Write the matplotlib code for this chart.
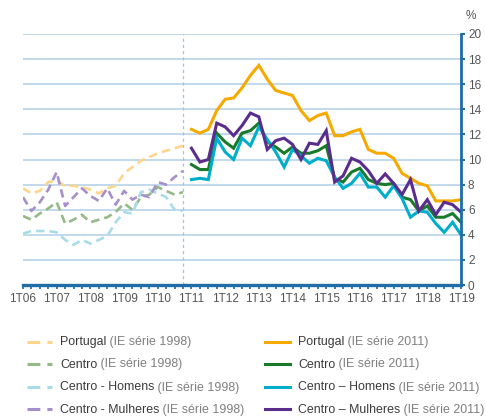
import matplotlib.pyplot as plt
from matplotlib.lines import Line2D
import numpy as np

plt.rcParams['font.family'] = ['Liberation Sans', 'DejaVu Sans']

# Trimestres (rótulos anuais)
anos = ['1T06', '1T07', '1T08', '1T09', '1T10', '1T11', '1T12',
        '1T13', '1T14', '1T15', '1T16', '1T17', '1T18', '1T19']

# Taxa de desemprego (%) - IE série 1998 (1T06 a 4T10)
pt_1998 = [7.7, 7.3, 7.5, 8.2, 8.3, 7.9, 7.9, 7.8, 7.6, 7.3,
           7.7, 7.9, 8.9, 9.4, 9.9, 10.2, 10.5, 10.7, 10.9, 11.1]
centro_1998 = [5.5, 5.2, 5.7, 6.1, 6.6, 4.9, 5.2, 5.6, 5.0, 5.2,
               5.4, 5.8, 6.5, 6.0, 7.0, 7.2, 7.8, 7.5, 7.2, 7.4]
homens_1998 = [4.1, 4.3, 4.3, 4.3, 4.2, 3.6, 3.2, 3.6, 3.3, 3.6,
               3.9, 5.0, 5.8, 5.7, 7.4, 7.6, 7.3, 7.0, 6.0, 5.9]
mulheres_1998 = [7.0, 5.9, 6.6, 7.6, 9.0, 6.3, 7.0, 7.7, 7.1, 6.7,
                 7.7, 6.4, 7.5, 6.8, 7.2, 7.0, 8.2, 8.0, 8.6, 9.1]

# Taxa de desemprego (%) - IE série 2011 (1T11 a 1T19)
pt_2011 = [12.4, 12.1, 12.4, 13.9, 14.8, 14.9, 15.7, 16.7, 17.5, 16.4,
           15.5, 15.3, 15.1, 13.9, 13.1, 13.5, 13.7, 11.9, 11.9, 12.2,
           12.4, 10.8, 10.5, 10.5, 10.1, 8.9, 8.5, 8.1, 7.9, 6.7,
           6.7, 6.7, 6.8]
centro_2011 = [9.6, 9.2, 9.2, 12.1, 11.4, 10.9, 12.1, 12.3, 12.9, 11.4,
               11.0, 10.5, 11.0, 10.5, 10.5, 10.7, 11.1, 8.5, 8.2, 9.0,
               9.3, 8.4, 8.1, 8.0, 8.1, 7.0, 6.8, 5.9, 6.3, 5.4,
               5.4, 5.7, 5.0]
homens_2011 = [8.4, 8.5, 8.4, 11.7, 10.6, 10.0, 11.7, 11.1, 12.6, 11.6,
               10.6, 9.4, 10.8, 10.3, 9.7, 10.1, 9.9, 8.6, 7.7, 8.1,
               8.9, 7.8, 7.8, 7.0, 7.9, 6.9, 5.4, 5.9, 5.8, 4.9,
               4.2, 5.0, 4.0]
mulheres_2011 = [10.9, 9.8, 10.0, 12.9, 12.6, 11.9, 12.7, 13.7, 13.4, 10.8,
                 11.5, 11.7, 11.2, 10.0, 11.3, 11.2, 12.3, 8.2, 8.7, 10.1,
                 9.8, 9.1, 8.1, 8.85, 8.1, 7.2, 8.4, 5.9, 6.8, 5.6,
                 6.6, 6.4, 5.8]

series_1998 = [
    (pt_1998, '#FDD68C', 'Portugal', ' (IE série 1998)'),
    (centro_1998, '#94BA88', 'Centro', ' (IE série 1998)'),
    (homens_1998, '#A9DCE8', 'Centro - Homens', ' (IE série 1998)'),
    (mulheres_1998, '#A690CB', 'Centro - Mulheres', ' (IE série 1998)'),
]
series_2011 = [
    (pt_2011, '#F6AA00', 'Portugal', ' (IE série 2011)'),
    (centro_2011, '#1A7A2C', 'Centro', ' (IE série 2011)'),
    (homens_2011, '#00AECB', 'Centro – Homens', ' (IE série 2011)'),
    (mulheres_2011, '#5A2D8C', 'Centro – Mulheres', ' (IE série 2011)'),
]

x_1998 = np.arange(len(pt_1998))
x_2011 = np.arange(len(pt_2011)) + len(pt_1998)

azul = '#1F6CA6'
cinza = '#555555'

fig = plt.figure(figsize=(4.86, 4.17), dpi=100)
ax = fig.add_axes([0.0473, 0.3165, 0.9013, 0.602])

for vals, cor, _, _ in series_1998:
    ax.plot(x_1998, vals, color=cor, lw=1.9, dashes=(3.2, 1.9),
            solid_joinstyle='miter')
for vals, cor, _, _ in series_2011:
    ax.plot(x_2011, vals, color=cor, lw=2.2, solid_joinstyle='miter')

# linha de quebra de série
ax.plot([x_1998[-1], x_1998[-1]], [0, 20], color='#9CC4E2', lw=0.9,
        dashes=(2.5, 2.5), zorder=1)

ax.set_xlim(0, 52)
ax.set_ylim(0, 20)
ax.set_yticks(range(0, 21, 2))
ax.set_xticks(range(0, 53, 4))
ax.set_xticklabels(anos)
ax.set_xticks(range(0, 53), minor=True)
ax.yaxis.tick_right()
ax.grid(axis='y', color='#B8D3EA', lw=1.2)
ax.set_axisbelow(True)

for s in ['left', 'top']:
    ax.spines[s].set_visible(False)
ax.spines['right'].set_color(azul)
ax.spines['right'].set_linewidth(2)
ax.spines['bottom'].set_color(azul)
ax.spines['bottom'].set_linewidth(2.4)

ax.tick_params(axis='y', colors=azul, length=3, width=1.5, pad=2,
               labelcolor=cinza, labelsize=8.5)
ax.tick_params(axis='x', which='both', colors=azul, length=3, width=1.2,
               labelcolor=cinza, labelsize=8.5, pad=3)

fig.text(0.968, 0.955, '%', color=cinza, fontsize=8.5, ha='center')

# legenda em duas colunas (nome escuro + série em cinzento claro)
renderer = fig.canvas.get_renderer()
linhas_y = [341.5, 363.5, 386.5, 409.0]
def legenda(x_linha, x_texto, series, tracejado):
    for (vals, cor, nome, resto), py in zip(series, linhas_y):
        yf = 1 - py / 417
        ln = Line2D([x_linha / 486, (x_linha + 25) / 486], [yf, yf],
                    transform=fig.transFigure, color=cor, lw=2.2)
        if tracejado:
            ln.set_dashes((4.2, 2.3))
        fig.add_artist(ln)
        yb = yf - 4 / 417
        t = fig.text(x_texto / 486, yb, nome, color='#3A3A3A',
                     fontsize=8.9, va='baseline')
        bb = t.get_window_extent(renderer)
        fig.text(bb.x1 / fig.bbox.width, yb, resto, color='#7F7F7F',
                 fontsize=8.9, va='baseline')

legenda(27, 60, series_1998, True)
legenda(265, 298, series_2011, False)

fig.savefig('out.png', dpi=100)
